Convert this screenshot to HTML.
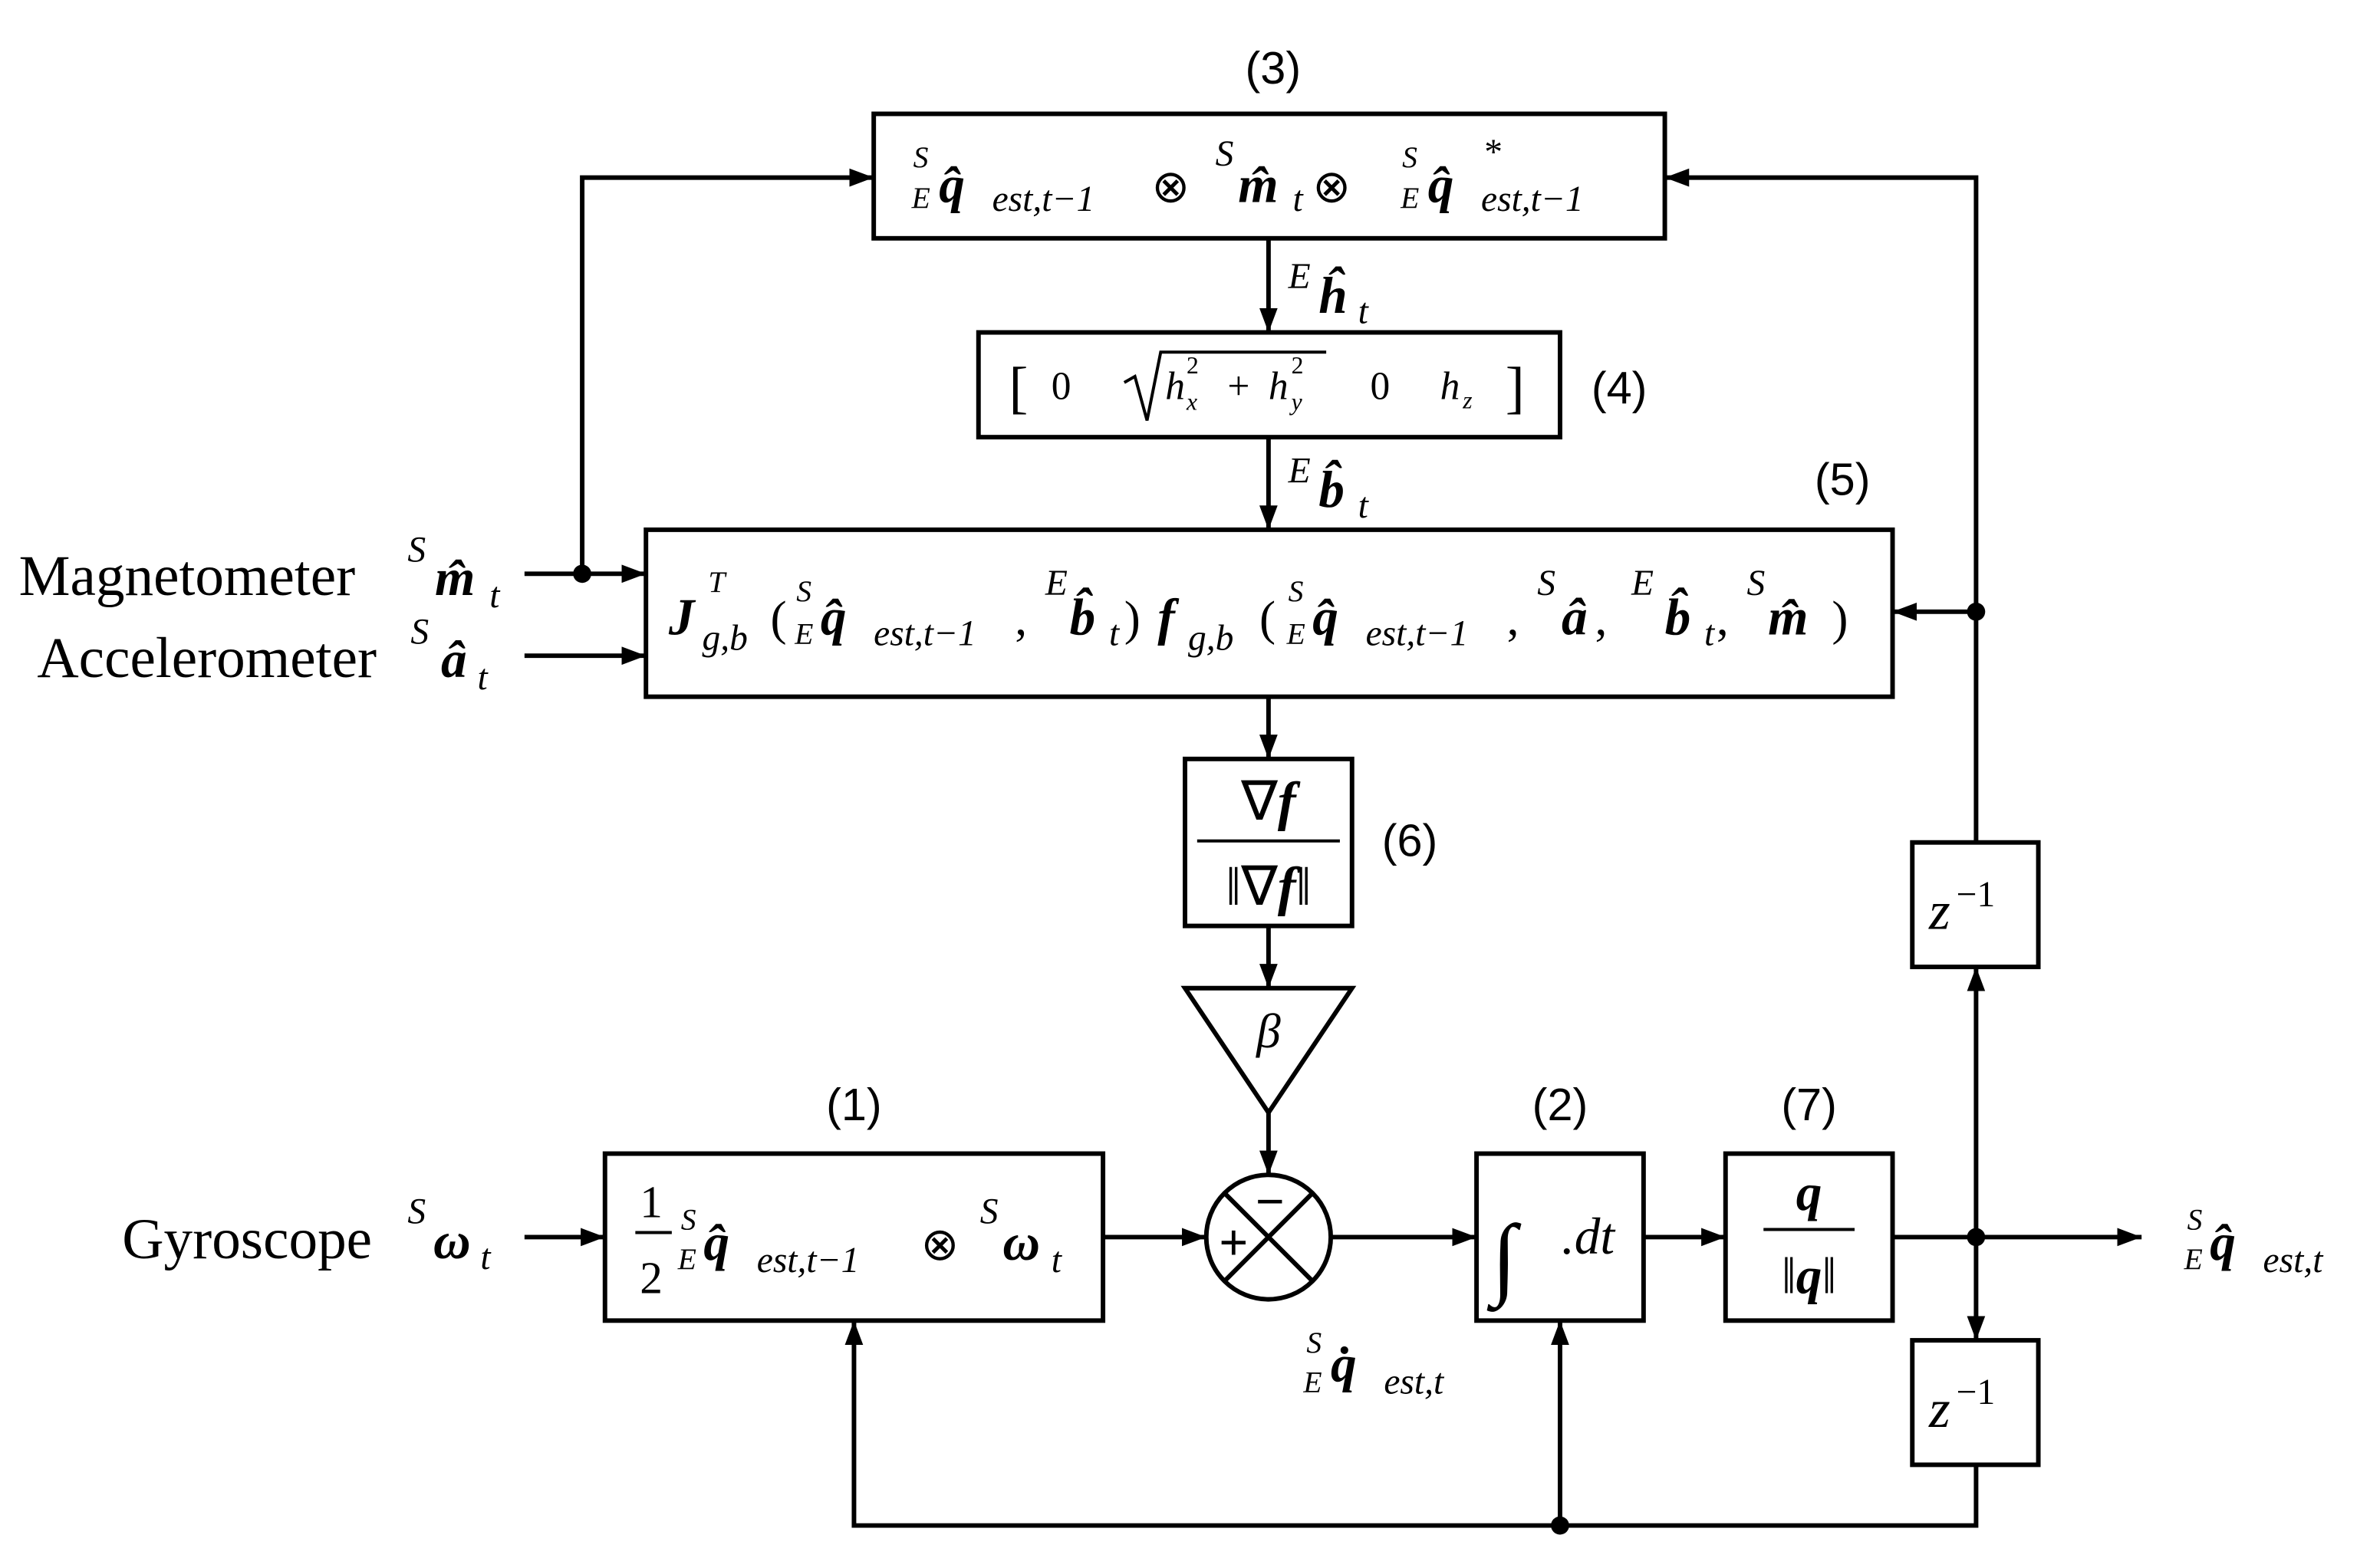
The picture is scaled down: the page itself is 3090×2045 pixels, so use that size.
<!DOCTYPE html>
<html><head><meta charset="utf-8"><style>
html,body{margin:0;padding:0;background:#fff}
svg{display:block}
text{font-family:"Liberation Serif",serif;fill:#000}
.s{font-family:"Liberation Sans",sans-serif;font-size:30px}
.i{font-style:italic}
.b{font-weight:bold;font-style:italic}
.q{font-weight:bold;font-style:italic;font-size:34px}
.sub{font-style:italic;font-size:24px}
.pre{font-style:italic;font-size:20px}
</style></head><body>
<svg width="3090" height="2045" viewBox="0 0 1560 1033" xmlns="http://www.w3.org/2000/svg">
<defs>
<marker id="ar" viewBox="0 0 16 12" markerWidth="16" markerHeight="12" refX="16" refY="6" orient="auto" markerUnits="userSpaceOnUse"><path d="M0,0 L16,6 L0,12 Z" fill="#000"/></marker></defs>
<g fill="none" stroke="#000" stroke-width="3">
<rect x="575" y="75" width="521" height="82"/>
<rect x="644" y="219" width="383" height="69"/>
<rect x="425" y="349" width="821" height="110"/>
<rect x="780" y="500" width="110" height="110"/>
<path d="M780,651 L890,651 L835,733 Z"/>
<circle cx="835" cy="815" r="41"/>
<path d="M806,786 L864,844 M864,786 L806,844"/>
<rect x="398" y="760" width="328" height="110"/>
<rect x="972" y="760" width="110" height="110"/>
<rect x="1136" y="760" width="110" height="110"/>
<rect x="1259" y="555" width="83" height="82"/>
<rect x="1259" y="883" width="83" height="82"/>
</g>
<g fill="none" stroke="#000" stroke-width="3" marker-end="url(#ar)">
<path d="M835,157 L835,219"/>
<path d="M835,288 L835,349"/>
<path d="M835,459 L835,500"/>
<path d="M835,610 L835,651"/>
<path d="M835,733 L835,774"/>
<path d="M726,815 L794,815"/>
<path d="M876,815 L972,815"/>
<path d="M1082,815 L1136,815"/>
<path d="M1246,815 L1410,815"/>
<path d="M1301,815 L1301,637"/>
<path d="M1301,815 L1301,883"/>
<path d="M1301,555 L1301,117 L1096,117"/>
<path d="M1301,403 L1246,403"/>
<path d="M1301,965 L1301,1005 L562,1005 L562,870"/>
<path d="M1027,1005 L1027,870"/>
<path d="M345,378 L425,378"/>
<path d="M383,378 L383,117 L575,117"/>
<path d="M345,432 L425,432"/>
<path d="M345,815 L398,815"/>
</g>
<g fill="#000"><circle cx="383" cy="378" r="6"/><circle cx="1301" cy="403" r="6"/><circle cx="1301" cy="815" r="6"/><circle cx="1027" cy="1005" r="6"/></g>
<text class="s" x="838" y="55" text-anchor="middle">(3)</text>
<text class="s" x="1066" y="266" text-anchor="middle">(4)</text>
<text class="s" x="1213" y="326" text-anchor="middle">(5)</text>
<text class="s" x="928" y="564" text-anchor="middle">(6)</text>
<text class="s" x="562" y="738" text-anchor="middle">(1)</text>
<text class="s" x="1027" y="738" text-anchor="middle">(2)</text>
<text class="s" x="1191" y="738" text-anchor="middle">(7)</text>

<!-- box 3 -->
<text class="pre" x="601" y="110">S</text><text class="pre" x="600" y="137">E</text>
<text class="q" x="618" y="133">q̂</text><text class="sub" x="653" y="139">est,t−1</text>
<text x="758" y="133" font-size="30">⊗</text>
<text class="sub" x="800" y="109">S</text><text class="q" x="815" y="133">m̂</text><text class="sub" x="851" y="139">t</text>
<text x="864" y="133" font-size="30">⊗</text>
<text class="pre" x="923" y="110">S</text><text class="pre" x="922" y="137">E</text>
<text class="q" x="940" y="133">q̂</text><text class="sub" x="976" y="108">*</text><text class="sub" x="975" y="139">est,t−1</text>

<!-- arrows labels -->
<text class="sub" x="848" y="190">E</text><text class="q" x="868" y="206">ĥ</text><text class="sub" x="894" y="213">t</text>
<text class="sub" x="848" y="318">E</text><text class="q" x="868" y="334">b̂</text><text class="sub" x="894" y="341">t</text>

<!-- box 4 -->
<text x="664" y="268" font-size="38" transform="translate(0,0)">[</text>
<text x="692" y="263" font-size="26">0</text>
<path d="M740,252 L747,248 L755,277 L764,232 L873,232" fill="none" stroke="#000" stroke-width="2"/>
<text class="i" x="767" y="263" font-size="26">h</text><text class="i" x="781" y="270" font-size="16">x</text><text x="781" y="246" font-size="16">2</text>
<text x="808" y="263" font-size="26">+</text>
<text class="i" x="835" y="263" font-size="26">h</text><text class="i" x="850" y="270" font-size="16">y</text><text x="850" y="246" font-size="16">2</text>
<text x="902" y="263" font-size="26">0</text>
<text class="i" x="948" y="263" font-size="26">h</text><text class="i" x="963" y="269" font-size="16">z</text>
<text x="991" y="268" font-size="38">]</text>

<!-- box 5 -->
<text class="q" x="440" y="418">J</text><text class="pre" x="466" y="390">T</text><text class="sub" x="462" y="428">g,b</text>
<text x="507" y="418" font-size="32">(</text>
<text class="pre" x="524" y="396">S</text><text class="pre" x="523" y="424">E</text>
<text class="q" x="540" y="418">q̂</text><text class="sub" x="575" y="425">est,t−1</text><text x="668" y="418" font-size="32">,</text>
<text class="sub" x="688" y="392">E</text><text class="q" x="704" y="418">b̂</text><text class="sub" x="730" y="425">t</text><text x="740" y="418" font-size="32">)</text>
<text class="q" x="762" y="418">f</text><text class="sub" x="782" y="428">g,b</text>
<text x="829" y="418" font-size="32">(</text>
<text class="pre" x="848" y="396">S</text><text class="pre" x="847" y="424">E</text>
<text class="q" x="864" y="418">q̂</text><text class="sub" x="899" y="425">est,t−1</text><text x="992" y="418" font-size="32">,</text>
<text class="sub" x="1012" y="392">S</text><text class="q" x="1028" y="418">â</text><text x="1050" y="418" font-size="32">,</text>
<text class="sub" x="1074" y="392">E</text><text class="q" x="1096" y="418">b̂</text><text class="sub" x="1122" y="425">t</text><text x="1130" y="418" font-size="32">,</text>
<text class="sub" x="1150" y="392">S</text><text class="q" x="1164" y="418">m̂</text><text x="1206" y="418" font-size="32">)</text>

<!-- inputs -->
<text x="12" y="392" font-size="38">Magnetometer</text>
<text class="sub" x="268" y="370">S</text><text class="q" x="286" y="392">m̂</text><text class="sub" x="322" y="400">t</text>
<text x="24" y="446" font-size="38">Accelerometer</text>
<text class="sub" x="270" y="424">S</text><text class="q" x="290" y="446">â</text><text class="sub" x="314" y="454">t</text>
<text x="80" y="829" font-size="38">Gyroscope</text>
<text class="sub" x="268" y="806">S</text><text class="q" x="285" y="829">ω</text><text class="sub" x="316" y="836">t</text>

<!-- box 6 -->
<text x="835" y="540" font-size="36" text-anchor="middle">∇<tspan class="b">f</tspan></text>
<line x1="788" y1="554" x2="882" y2="554" stroke="#000" stroke-width="2"/>
<text x="835" y="596" font-size="36" text-anchor="middle">‖∇<tspan class="b">f</tspan>‖</text>
<text x="835" y="690" font-size="32" class="i" text-anchor="middle">β</text>
<text x="812" y="830" font-size="34" font-weight="bold" text-anchor="middle">+</text>
<text x="836" y="803" font-size="34" font-weight="bold" text-anchor="middle">−</text>

<!-- box 1 -->
<text x="421" y="802" font-size="30">1</text><line x1="418" y1="812" x2="442" y2="812" stroke="#000" stroke-width="2"/><text x="421" y="852" font-size="30">2</text>
<text class="pre" x="448" y="810">S</text><text class="pre" x="446" y="836">E</text>
<text class="q" x="463" y="830">q̂</text><text class="sub" x="498" y="838">est,t−1</text>
<text x="606" y="830" font-size="30">⊗</text>
<text class="sub" x="645" y="806">S</text><text class="q" x="660" y="830">ω</text><text class="sub" x="692" y="838">t</text>

<!-- box 2, 7 -->
<text x="982" y="848" font-size="60">∫</text><text x="1028" y="826" font-size="34" class="i">.dt</text>
<text x="1191" y="797" font-size="34" class="b" text-anchor="middle">q</text>
<line x1="1161" y1="810" x2="1221" y2="810" stroke="#000" stroke-width="2"/>
<text x="1191" y="852" font-size="34" text-anchor="middle">‖<tspan class="b">q</tspan>‖</text>

<text x="1270" y="612" font-size="36" class="i">z</text><text x="1288" y="597" font-size="24">−1</text>
<text x="1270" y="940" font-size="36" class="i">z</text><text x="1288" y="925" font-size="24">−1</text>

<!-- output -->
<text class="pre" x="1440" y="810">S</text><text class="pre" x="1438" y="836">E</text>
<text class="q" x="1455" y="830">q̂</text><text class="sub" x="1490" y="838">est,t</text>
<text class="pre" x="860" y="891">S</text><text class="pre" x="858" y="917">E</text>
<text class="q" x="876" y="910">q̇</text><text class="sub" x="911" y="918">est,t</text>
</svg>
</body></html>
